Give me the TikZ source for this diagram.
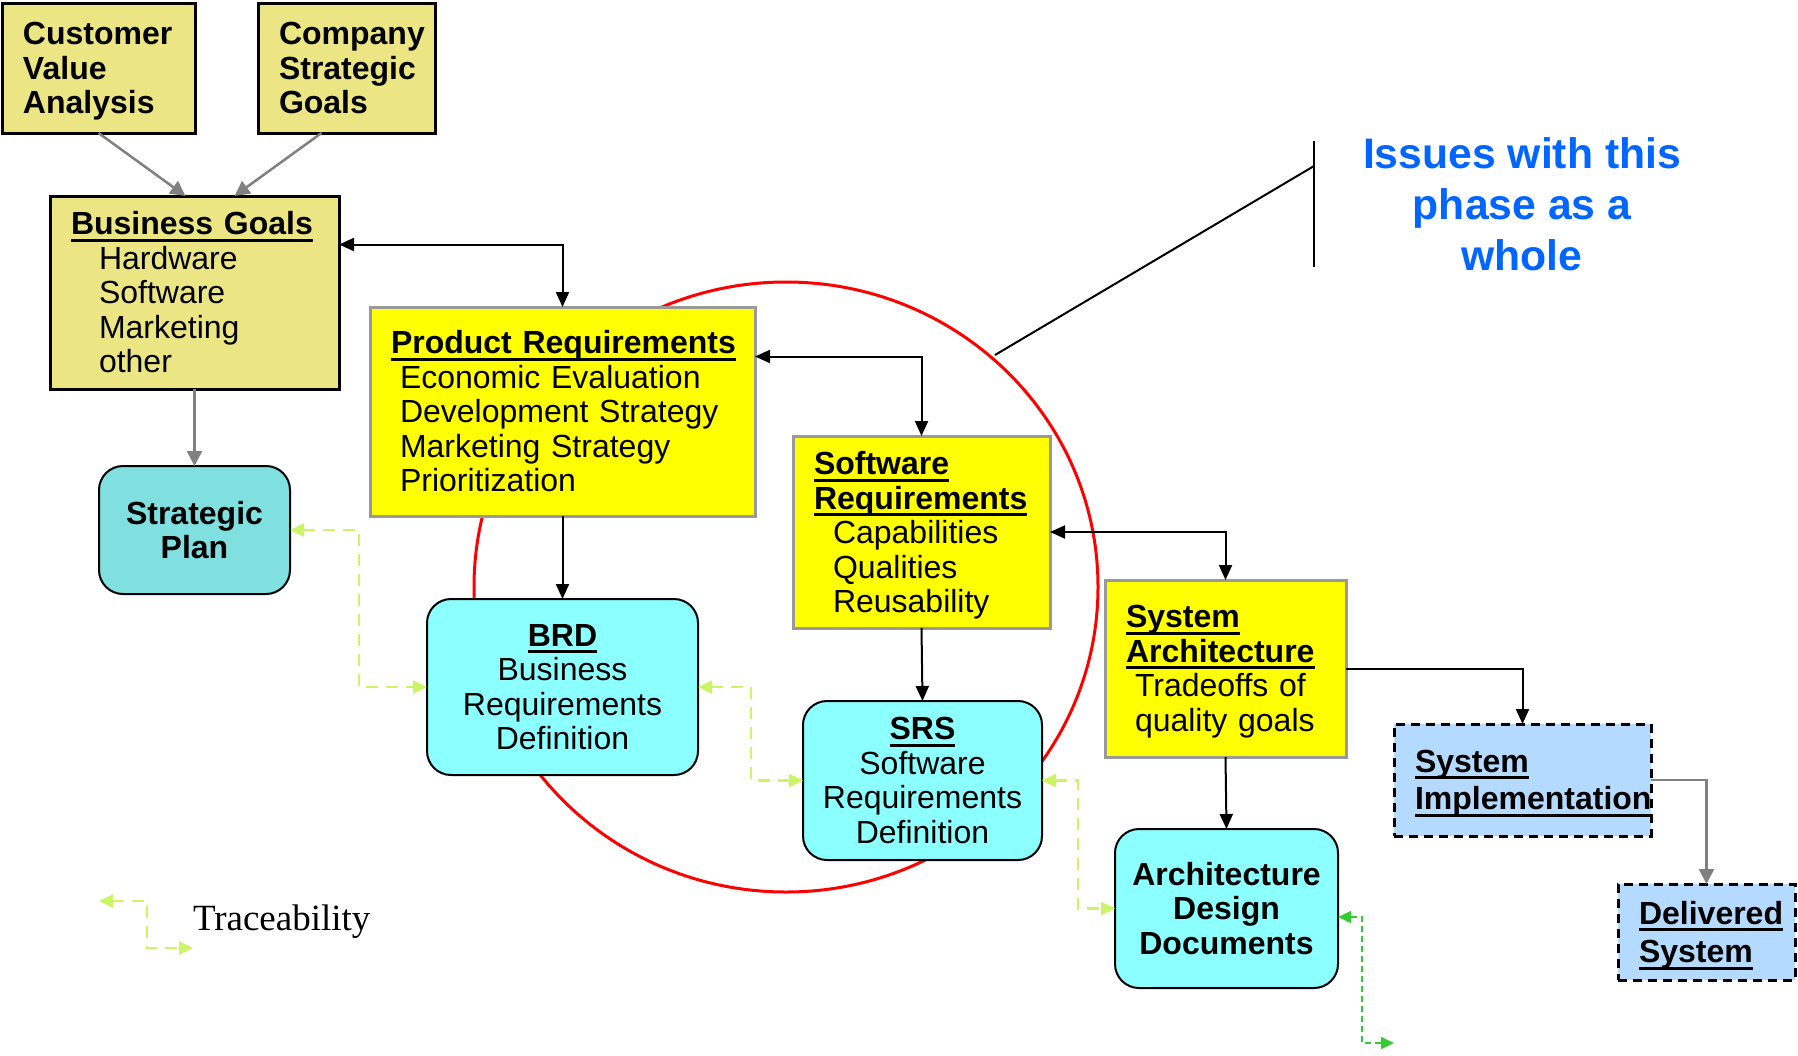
\documentclass[tikz,border=0pt]{standalone}
\usepackage{fontspec}
\setmainfont{Liberation Sans}
\newfontfamily\timesf{Liberation Serif}
\usetikzlibrary{arrows.meta}
\definecolor{paleyel}{HTML}{EBE683}
\definecolor{brightyel}{HTML}{FFFF00}
\definecolor{cyanbox}{HTML}{8CFFFF}
\definecolor{tealbox}{HTML}{80E0E0}
\definecolor{bluebox}{HTML}{B4DAFF}
\definecolor{issueblue}{HTML}{0066FF}
\definecolor{tracegreen}{HTML}{CCF566}
\definecolor{darkgreen}{HTML}{33CC33}
\definecolor{boxgray}{HTML}{999999}
\definecolor{arrgray}{HTML}{808080}
\newsavebox\ulbox
\newcommand\myul[1]{\leavevmode\sbox\ulbox{#1}\rlap{\rule[-7pt]{\wd\ulbox}{3pt}}\usebox\ulbox}
\newcommand\nodp[1]{\raisebox{0pt}[\height][0pt]{#1}}
\begin{document}
\begin{tikzpicture}[x=1pt,y=-1pt,
  every node/.style={outer sep=0pt},
  rfont/.style={font=\fontsize{32}{34.5}\selectfont},
  bfont/.style={font=\fontsize{32}{34.5}\selectfont\bfseries},
  boxbase/.style={rfont, anchor=north west, inner ysep=0pt},
  lbox/.style={boxbase, inner xsep=21pt, align=left},
  cbox/.style={boxbase, inner xsep=0pt, align=center},
  paleyelbox/.style={lbox, fill=paleyel, draw=black, line width=3pt},
  reqbox/.style={lbox, fill=brightyel, draw=boxgray, line width=3pt},
  docbox/.style={cbox, fill=cyanbox, draw=black, line width=2pt, rounded corners=24pt},
  implbox/.style={lbox, fill=bluebox, draw=black, line width=3pt, dash pattern=on 9pt off 6pt},
  conn/.style={draw=black, line width=2pt, -{Triangle[length=15pt,width=13pt]}},
  biconn/.style={draw=black, line width=2pt, {Triangle[length=15pt,width=13pt]}-{Triangle[length=15pt,width=13pt]}},
  grayconn/.style={draw=arrgray, line width=2.5pt, -{Triangle[length=15pt,width=15pt]}},
  trace/.style={draw=tracegreen, line width=2.5pt, dash pattern=on 12pt off 8pt, {Triangle[length=14pt,width=13pt]}-{Triangle[length=14pt,width=13pt]}},
  darktrace/.style={draw=darkgreen, line width=1.5pt, dash pattern=on 6pt off 4pt, {Triangle[length=13pt,width=12pt]}-{Triangle[length=13pt,width=12pt]}},
  callout/.style={draw=black, line width=2pt}
]
\fill[white] (0,0) rectangle (1798,1055);
\useasboundingbox (0,0) rectangle (1798,1055);

% red circle
\draw[draw=red, line width=3pt] (786,587) ellipse [x radius=312pt, y radius=305pt];

% callout
\coordinate (brTop) at (1314,141);
\coordinate (brBot) at (1314,267);
\coordinate (brMid) at (1314,166);
\coordinate (callTip) at (995,355);
\draw[callout] (brTop) -- (brBot);
\draw[callout] (callTip) -- (brMid);
\node[font=\fontsize{42.7}{51}\selectfont\bfseries, text=issueblue, align=center, inner sep=0pt] (issues) at (1522,204) {Issues with this\\phase as a\\whole};

% boxes
\node[paleyelbox, bfont, text width=151pt, minimum height=130pt] (cva) at (2,3) {Customer\\Value\\\nodp{Analysis}};
\node[paleyelbox, bfont, text width=135pt, minimum height=130pt] (csg) at (258,3) {Company\\Strategic\\Goals};
\node[paleyelbox, text width=247pt, minimum height=193pt] (bg) at (50,196)
  {\myul{\textbf{Business Goals}}\\\hspace*{28pt}Hardware\\\hspace*{28pt}Software\\\hspace*{28pt}Marketing\\\hspace*{28pt}other};
\node[docbox, bfont, fill=tealbox, minimum width=191pt, minimum height=128pt] (sp) at (99,466) {Strategic\\Plan};
\node[reqbox, text width=343pt, minimum height=209pt] (pr) at (370,307)
  {\myul{\textbf{Product Requirements}}\\\hspace*{9pt}Economic Evaluation\\\hspace*{9pt}Development Strategy\\\hspace*{9pt}Marketing Strategy\\\hspace*{9pt}Prioritization};
\node[reqbox, text width=215pt, minimum height=192pt] (sr) at (793,436)
  {\myul{\textbf{Software}}\\\myul{\textbf{Requirements}}\\\hspace*{19pt}Capabilities\\\hspace*{19pt}Qualities\\\hspace*{19pt}\nodp{Reusability}};
\node[docbox, minimum width=271pt, minimum height=176pt] (brd) at (427,599)
  {\myul{\textbf{BRD}}\\Business\\Requirements\\Definition};
\node[docbox, minimum width=239pt, minimum height=159pt] (srs) at (803,701)
  {\myul{\textbf{SRS}}\\Software\\Requirements\\Definition};
\node[reqbox, text width=199pt, minimum height=177pt] (sa) at (1105,580)
  {\myul{\textbf{System}}\\\myul{\textbf{Architecture}}\\\hspace*{9pt}Tradeoffs of\\\hspace*{9pt}\nodp{quality goals}};
\node[docbox, bfont, minimum width=223pt, minimum height=159pt] (add) at (1115,829)
  {Architecture\\Design\\Documents};
\node[implbox, text width=215pt, minimum height=112pt] (si) at (1394,724)
  {\myul{\textbf{System}}\\[3pt]\nodp{\myul{\textbf{Implementation}}}};
\node[implbox, text width=135pt, minimum height=96pt] (ds) at (1618,884)
  {\myul{\textbf{Delivered}}\\[4pt]\nodp{\myul{\textbf{System}}}};

% connectors
\draw[grayconn] (cva.south) -- ([xshift=-9pt]bg.north);
\draw[grayconn] ([xshift=-25pt]csg.south) -- ([xshift=40pt]bg.north);
\draw[grayconn] (bg.south) -- (sp.north);
\draw[biconn] ([yshift=48pt]bg.east) -| (pr.north);
\draw[biconn] ([yshift=55pt]pr.east) -| (sr.north);
\draw[conn] (pr.south) -- (brd.north);
\draw[biconn] (sr.east) -| (sa.north);
\draw[conn] (sr.south) -- (srs.north);
\draw[conn] (sa.east) -| (si.north);
\draw[conn] (sa.south) -- (add.north);
\draw[grayconn] (si.east) -| (ds.north);

% traceability
\draw[trace] (sp.east) -- ([xshift=69pt]sp.east) |- (brd.west);
\draw[trace] (brd.east) -- ([xshift=53pt]brd.east) |- (srs.west);
\draw[trace] (srs.east) -- ([xshift=36pt]srs.east) |- (add.west);
\coordinate (outEnd) at (1394,1043);
\draw[darktrace] ([yshift=-8.5pt]add.east) -- ([xshift=24pt,yshift=-8.5pt]add.east) |- (outEnd);

% legend
\coordinate (lgL) at (99,901);
\coordinate (lgR) at (193,948);
\draw[trace] (lgL) -- ++(48,0) |- (lgR);
\node[anchor=base west, inner sep=0pt, font=\timesf\fontsize{37}{40}\selectfont] (trlabel) at (193,930) {Traceability};
\end{tikzpicture}
\end{document}
